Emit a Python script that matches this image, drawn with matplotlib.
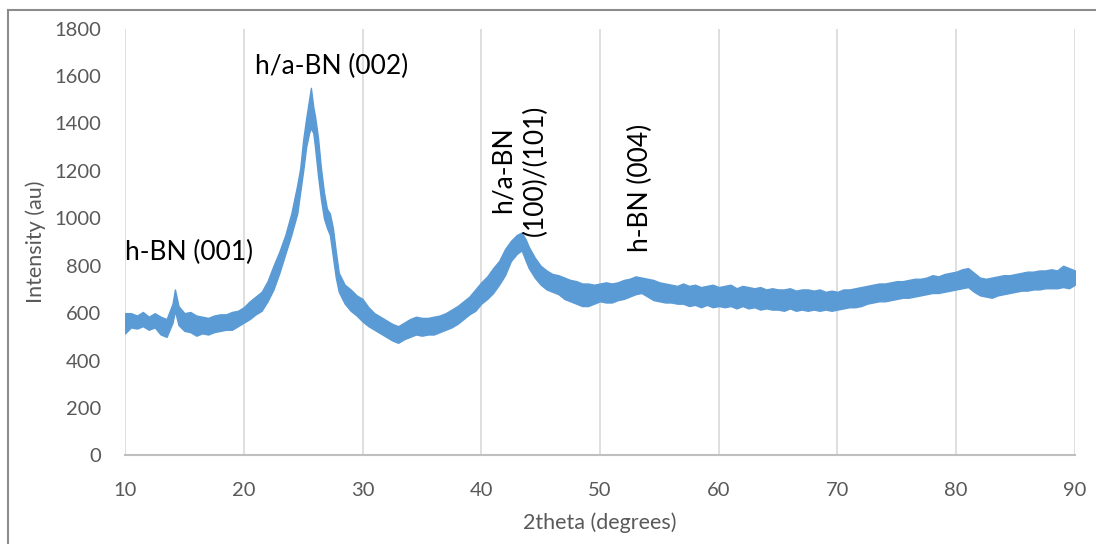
import matplotlib
matplotlib.use("Agg")
import matplotlib.pyplot as plt
from matplotlib.lines import Line2D

# XRD pattern of the BN sample: 2-theta positions with the lower and upper
# edge of the noisy intensity trace at each position.
two_theta = [
    10.0, 10.5, 11.0, 11.5, 12.0, 12.5, 13.0, 13.5, 14.0, 14.2, 14.5, 15.0,
    15.5, 16.0, 16.5, 17.0, 17.5, 18.0, 18.5, 19.0, 19.5, 20.0, 20.5, 21.0,
    21.5, 22.0, 22.5, 23.0, 23.5, 24.0, 24.5, 24.75, 25.0, 25.25, 25.5, 25.65,
    25.85, 26.0, 26.25, 26.5, 26.75, 27.0, 27.25, 27.5, 27.75, 28.0, 28.5,
    29.0, 29.5, 30.0, 30.5, 31.0, 31.5, 32.0, 32.5, 33.0, 33.5, 34.0, 34.5,
    35.0, 35.5, 36.0, 36.5, 37.0, 37.5, 38.0, 38.5, 39.0, 39.5, 40.0, 40.5,
    41.0, 41.5, 42.0, 42.5, 43.0, 43.4, 43.75, 44.0, 44.5, 45.0, 45.5, 46.0,
    46.5, 47.0, 47.5, 48.0, 48.5, 49.0, 49.5, 50.0, 50.5, 51.0, 51.5, 52.0,
    52.5, 53.0, 53.5, 54.0, 54.5, 55.0, 55.5, 56.0, 56.5, 57.0, 57.5, 58.0,
    58.5, 59.0, 59.5, 60.0, 60.5, 61.0, 61.5, 62.0, 62.5, 63.0, 63.5, 64.0,
    64.5, 65.0, 65.5, 66.0, 66.5, 67.0, 67.5, 68.0, 68.5, 69.0, 69.5, 70.0,
    70.5, 71.0, 71.5, 72.0, 72.5, 73.0, 73.5, 74.0, 74.5, 75.0, 75.5, 76.0,
    76.5, 77.0, 77.5, 78.0, 78.5, 79.0, 79.5, 80.0, 80.5, 81.0, 81.5, 82.0,
    82.5, 83.0, 83.5, 84.0, 84.5, 85.0, 85.5, 86.0, 86.5, 87.0, 87.5, 88.0,
    88.5, 89.0, 89.5, 90.0,
]
intensity_low = [
    515, 540, 535, 545, 530, 540, 510, 500, 560, 610, 550, 525,
    520, 505, 515, 510, 520, 525, 530, 530, 545, 560, 575, 595,
    610, 650, 700, 770, 850, 930, 1020, 1110, 1200, 1300, 1360, 1380,
    1360, 1300, 1180, 1080, 1000, 960, 930, 840, 750, 690, 640,
    610, 590, 565, 545, 530, 515, 500, 485, 475, 490, 500, 510,
    505, 510, 510, 520, 530, 540, 555, 575, 595, 610, 640, 660,
    685, 720, 760, 820, 850, 865, 820, 790, 750, 720, 700, 690,
    680, 660, 650, 640, 630, 630, 640, 650, 645, 645, 655, 660,
    670, 680, 685, 670, 655, 650, 645, 645, 640, 640, 630, 635,
    625, 635, 625, 630, 625, 630, 620, 630, 620, 625, 615, 620,
    615, 615, 610, 620, 610, 615, 610, 615, 610, 615, 610, 615,
    620, 625, 625, 630, 640, 645, 650, 650, 655, 660, 665, 665,
    670, 675, 680, 685, 685, 690, 695, 700, 705, 710, 690, 675,
    670, 665, 675, 680, 685, 690, 695, 695, 700, 700, 705, 705,
    705, 710, 705, 720,
]
intensity_high = [
    600, 600, 590, 605, 585, 600, 585, 575, 640, 700, 630, 600,
    605, 590, 585, 580, 590, 595, 595, 605, 610, 625, 650, 670,
    690, 735, 800, 860, 930, 1020, 1140, 1210, 1330, 1420, 1500, 1550,
    1470, 1430, 1340, 1210, 1110, 1040, 1020, 960, 860, 770, 720,
    700, 675, 660, 625, 600, 585, 570, 555, 545, 560, 575, 585,
    580, 580, 585, 590, 600, 615, 630, 650, 670, 700, 730, 755,
    790, 820, 870, 905, 930, 940, 910, 880, 835, 800, 780, 765,
    760, 750, 740, 735, 725, 725, 720, 725, 730, 725, 730, 740,
    745, 755, 750, 745, 740, 730, 725, 720, 715, 725, 715, 720,
    710, 715, 720, 710, 715, 720, 705, 715, 710, 705, 710, 700,
    705, 700, 700, 705, 695, 700, 700, 695, 700, 690, 695, 690,
    700, 700, 705, 710, 715, 720, 725, 725, 730, 735, 735, 740,
    745, 745, 750, 760, 755, 765, 770, 775, 785, 790, 770, 750,
    745, 750, 755, 760, 760, 765, 770, 775, 775, 780, 780, 785,
    780, 800, 790, 780,
]

x_ticks = [10, 20, 30, 40, 50, 60, 70, 80, 90]
y_ticks = [0, 200, 400, 600, 800, 1000, 1200, 1400, 1600, 1800]

# Peak assignments: (text, x, y, rotation)
peak_labels = [
    ("h-BN (001)", 10.0, 854, 0),
    ("h/a-BN (002)", 27.4, 1638, 0),
    ("h/a-BN\n(100)/(101)", 43.2, 1203, 90),
    ("h-BN (004)", 53.4, 1127, 90),
]

plt.rcParams["font.family"] = ["Lato", "DejaVu Sans"]

LINE_BLUE = "#5B9BD5"
GRID_GREY = "#D9D9D9"
AXIS_GREY = "#BFBFBF"
TEXT_GREY = "#595959"

fig = plt.figure(figsize=(10.96, 5.44), dpi=100)
ax = fig.add_axes([0.1141, 0.1627, 0.8667, 0.7849])

ax.fill_between(two_theta, intensity_low, intensity_high,
                color=LINE_BLUE, linewidth=1.0, edgecolor=LINE_BLUE, zorder=3)

ax.set_xlim(10, 90)
ax.set_ylim(0, 1800)
ax.set_xticks(x_ticks)
ax.set_yticks(y_ticks)
ax.tick_params(axis="both", length=0, labelsize=14.5, labelcolor=TEXT_GREY)
ax.tick_params(axis="x", pad=19)
ax.tick_params(axis="y", pad=17)

ax.grid(axis="x", color=GRID_GREY, linewidth=1.2, zorder=0)
ax.grid(axis="y", visible=False)
for side in ("left", "right", "top"):
    ax.spines[side].set_visible(False)
ax.spines["bottom"].set_color(AXIS_GREY)
ax.spines["bottom"].set_linewidth(1.5)

ax.set_xlabel("2theta (degrees)", fontsize=15.5, color=TEXT_GREY, labelpad=10)
ax.set_ylabel("Intensity (au)", fontsize=15.5, color=TEXT_GREY, labelpad=6)

for text, x, y, rot in peak_labels:
    if rot == 0:
        ha = "left" if x == 10.0 else "center"
    else:
        ha = "center"
    ax.text(x, y, text, rotation=rot, ha=ha, va="center",
            multialignment="center", fontsize=19, color="black",
            linespacing=1.4, zorder=4)

# Chart-area frame along the left and top edges
fig.add_artist(Line2D([8 / 1096, 8 / 1096], [0, 1 - 10 / 544],
                      transform=fig.transFigure, color="#8C8C8C", linewidth=1.5))
fig.add_artist(Line2D([8 / 1096, 1], [1 - 10 / 544, 1 - 10 / 544],
                      transform=fig.transFigure, color="#8C8C8C", linewidth=1.5))

fig.savefig("out.png", dpi=100)
